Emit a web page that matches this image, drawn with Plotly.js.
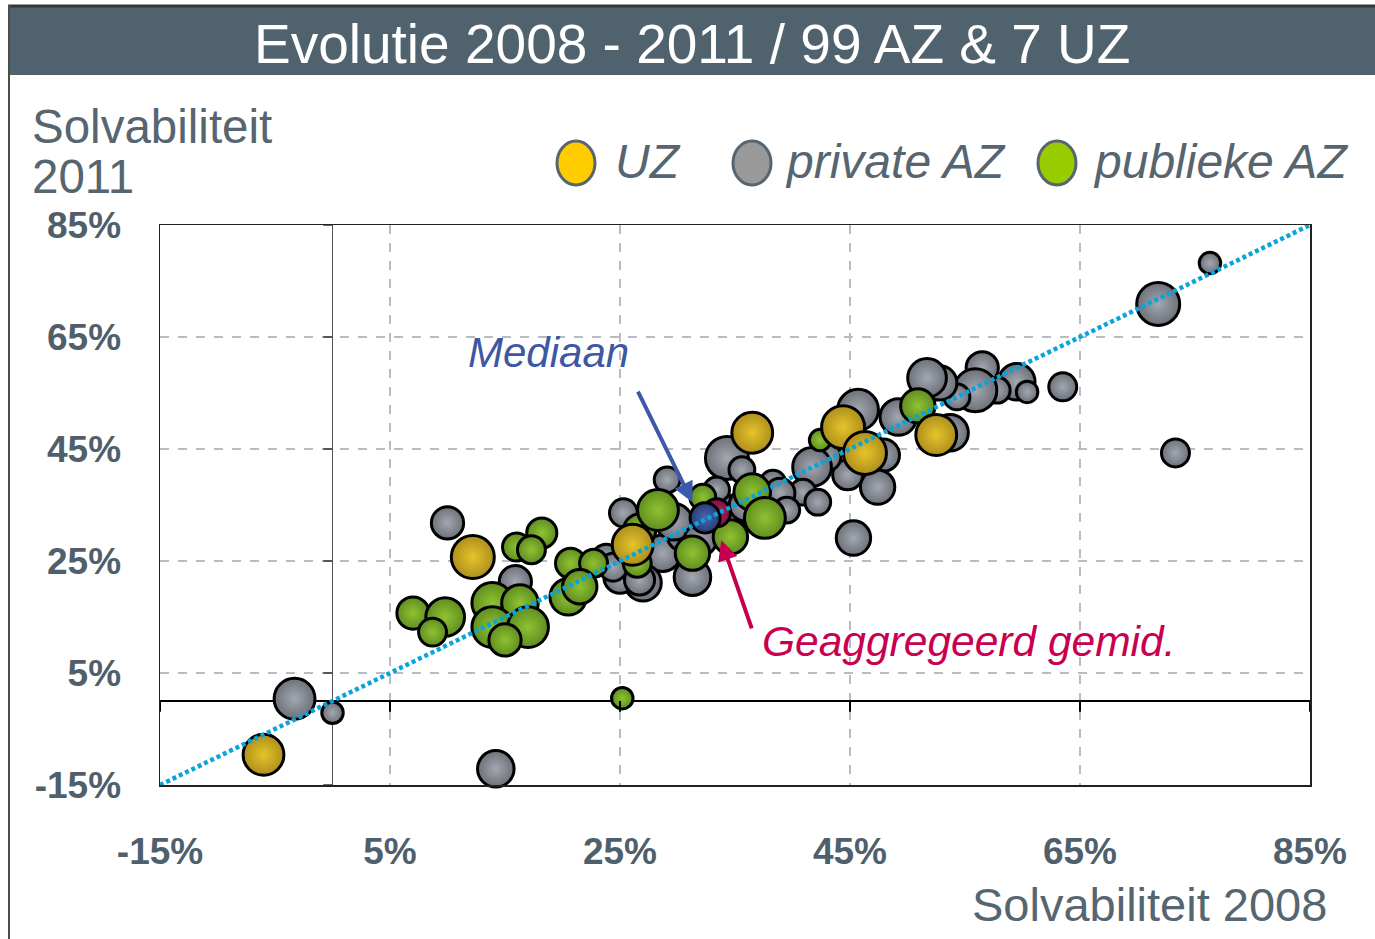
<!DOCTYPE html>
<html>
<head>
<meta charset="utf-8">
<script src="https://cdn.plot.ly/plotly-3.0.1.min.js"></script>
<style>html,body{margin:0;padding:0;background:#fff;}#chart{width:1375px;height:939px;}</style>
</head>
<body>
<div id="chart"></div>
<script>
// ---------- DATA ----------
const xTickVals = [-15, 5, 25, 45, 65, 85];
const xTickText = ['-15%', '5%', '25%', '45%', '65%', '85%'];
const yTickVals = [-15, 5, 25, 45, 65, 85];
const yTickText = ['-15%', '5%', '25%', '45%', '65%', '85%'];

// UZ (yellow)
const uzX = [-6.0, 12.2, 26.1, 36.5, 44.4, 46.3, 52.5];
const uzY = [-9.6, 25.7, 27.9, 47.9, 48.9, 44.3, 47.5];
const uzSize = [38, 40, 38, 38, 40, 40, 38];

// private AZ (gray)
const privX = [-3.3, 0.0, 14.2, 10.0, 15.9, 71.8, 76.3, 73.3, 45.3, 63.5,
               59.5, 60.4, 57.8, 56.5, 55.9, 54.3, 52.8, 51.7, 49.2, 45.7,
               53.7, 47.9, 47.4, 44.8, 43.0, 41.7, 40.9, 42.2, 34.3, 35.6,
               38.3, 38.9, 39.5, 33.4, 29.1, 25.3, 28.7, 31.3, 27.0, 25.0,
               23.8, 26.7, 24.4, 30.5, 35.0, 29.7, 35.9, 32.0];
const privY = [0.4, -2.1, -12.1, 31.8, 21.3, 70.9, 78.2, 44.3, 29.1, 56.1,
               57.0, 55.2, 55.5, 59.5, 55.5, 54.3, 56.8, 57.7, 50.7, 52.0,
               47.9, 43.9, 38.2, 40.4, 43.6, 41.8, 37.3, 35.5, 43.4, 41.3,
               38.9, 37.1, 34.1, 37.7, 39.5, 33.6, 26.4, 22.1, 21.1, 22.1,
               25.5, 21.6, 23.9, 29.6, 34.1, 32.0, 35.0, 28.8];
const privSize = [38, 20, 34, 30, 30, 40, 20, 26, 32, 26,
                  34, 20, 24, 30, 40, 24, 32, 36, 34, 38,
                  34, 30, 32, 28, 26, 36, 24, 24, 40, 24,
                  24, 28, 24, 24, 24, 26, 34, 34, 34, 30,
                  26, 28, 26, 30, 28, 34, 30, 30];

// publieke AZ (green)
const pubX = [25.2, 7.0, 9.8, 8.7, 13.9, 16.3, 13.9, 17.0, 15.0, 16.0,
              18.2, 17.3, 20.7, 22.7, 20.5, 21.5, 26.5, 26.7, 28.3, 31.3,
              32.2, 34.6, 36.5, 37.6, 42.4, 50.9];
const pubY = [0.5, 15.7, 15.0, 12.3, 17.5, 17.5, 13.2, 13.2, 10.9, 27.5,
              30.0, 27.0, 24.6, 24.6, 18.6, 20.4, 24.6, 30.5, 34.1, 26.4,
              36.4, 29.3, 37.3, 32.7, 46.6, 52.7];
const pubSize = [20, 30, 36, 26, 38, 34, 38, 38, 30, 26,
                 28, 26, 28, 26, 34, 32, 26, 30, 38, 32,
                 24, 32, 34, 38, 20, 32];

// Median and aggregated average
const medX = [32.4], medY = [32.7], medSize = [28];
const avgX = [33.4], avgY = [33.6], avgSize = [26];

const diagX = [-15, 85], diagY = [-15, 85];

// ---------- HELPERS ----------
const FONT = 'Liberation Sans, Arial, sans-serif';
const TXT = '#56656f';
const PX = p => (p - 160) / 1150;   // pixel -> paper x
const PY = p => (785 - p) / 560;    // pixel -> paper y

// edge = marker colour, center = radial gradient (centre) colour
function bubble(name, x, y, s, center, edge) {
  return {
    type: 'scatter', mode: 'markers', name: name, x: x, y: y,
    hoverinfo: 'x+y+name',
    marker: {
      size: s, sizemode: 'diameter', sizeref: 0.93, color: edge,
      gradient: {type: 'radial', color: center},
      line: {color: '#000', width: 3}, opacity: 1
    },
    showlegend: false, cliponaxis: false
  };
}

const traces = [
  bubble('private AZ', privX, privY, privSize, '#a2a7b0', '#6b7079'),
  bubble('publieke AZ', pubX, pubY, pubSize, '#8fc232', '#5f8d20'),
  bubble('UZ', uzX, uzY, uzSize, '#e6c42a', '#ad8e1c'),
  bubble('Geaggregeerd gemid.', avgX, avgY, avgSize, '#c42466', '#7c0f3a'),
  bubble('Mediaan', medX, medY, medSize, '#4a66ad', '#263c74'),
  {type: 'scatter', mode: 'lines', x: diagX, y: diagY, hoverinfo: 'skip',
   line: {color: '#0aa3dc', width: 4.5, dash: '4px,3px'}, showlegend: false}
];

// ---------- SHAPES ----------
const shapes = [];
// title bar
shapes.push({type: 'rect', xref: 'paper', yref: 'paper', x0: PX(8), x1: PX(1380), y0: PY(75), y1: PY(7),
  fillcolor: '#50626e', line: {width: 0}, layer: 'below'});
shapes.push({type: 'line', xref: 'paper', yref: 'paper', x0: PX(8), x1: PX(1380), y0: PY(6), y1: PY(6),
  line: {color: '#303a30', width: 3}});
// left frame line
shapes.push({type: 'line', xref: 'paper', yref: 'paper', x0: PX(9), x1: PX(9), y0: PY(5), y1: PY(939),
  line: {color: '#4a4f4a', width: 2}});
// small ticks on the zero lines
xTickVals.forEach(v => shapes.push({type: 'line', xref: 'x', yref: 'y', x0: v, x1: v, y0: 0, y1: -1.9,
  line: {color: '#000', width: 2}}));
yTickVals.forEach(v => shapes.push({type: 'line', xref: 'x', yref: 'y', x0: -0.8, x1: 0, y0: v, y1: v,
  line: {color: '#333', width: 1.5}}));
// legend circles
const legend = [
  {cx: 576, label: 'UZ', fill: '#ffcc00', tx: 613},
  {cx: 752, label: 'private AZ', fill: '#999999', tx: 783},
  {cx: 1057, label: 'publieke AZ', fill: '#99cc00', tx: 1091}
];
legend.forEach(l => shapes.push({type: 'circle', xref: 'paper', yref: 'paper',
  x0: PX(l.cx - 19), x1: PX(l.cx + 19), y0: PY(185), y1: PY(141),
  fillcolor: l.fill, line: {color: '#56656f', width: 3}}));

// ---------- ANNOTATIONS ----------
const ann = [];
ann.push({xref: 'paper', yref: 'paper', x: PX(692), y: PY(44), xanchor: 'center', yanchor: 'middle',
  text: 'Evolutie 2008 - 2011 / 99 AZ &amp; 7 UZ', showarrow: false,
  font: {family: FONT, size: 55, color: '#ffffff'}});
ann.push({xref: 'paper', yref: 'paper', x: PX(30), y: PY(127), xanchor: 'left', yanchor: 'middle',
  text: 'Solvabiliteit', showarrow: false, font: {family: FONT, size: 47.5, color: TXT}});
ann.push({xref: 'paper', yref: 'paper', x: PX(30), y: PY(176), xanchor: 'left', yanchor: 'middle',
  text: '2011', showarrow: false, font: {family: FONT, size: 47.5, color: TXT}});
ann.push({xref: 'paper', yref: 'paper', x: PX(1329), y: PY(904), xanchor: 'right', yanchor: 'middle',
  text: 'Solvabiliteit 2008', showarrow: false, font: {family: FONT, size: 47, color: TXT}});
legend.forEach(l => ann.push({xref: 'paper', yref: 'paper', x: PX(l.tx), y: PY(162), xanchor: 'left', yanchor: 'middle',
  text: '<i>' + l.label + '</i>', showarrow: false, font: {family: FONT, size: 48, color: TXT}}));
// arrows
ann.push({xref: 'x', yref: 'y', axref: 'x', ayref: 'y', x: 31.3, y: 35.5, ax: 26.5, ay: 55.5,
  text: '', showarrow: true, arrowhead: 2, arrowsize: 1, arrowwidth: 4, arrowcolor: '#3d5aa8', standoff: 0});
ann.push({xref: 'x', yref: 'y', axref: 'x', ayref: 'y', x: 33.8, y: 28.7, ax: 36.5, ay: 12.7,
  text: '', showarrow: true, arrowhead: 2, arrowsize: 1, arrowwidth: 4, arrowcolor: '#c4004e', standoff: 0});
ann.push({xref: 'x', yref: 'y', x: 18.8, y: 62.3, xanchor: 'center', yanchor: 'middle',
  text: '<i>Mediaan</i>', showarrow: false, font: {family: FONT, size: 42, color: '#3d57a3'}});
ann.push({xref: 'x', yref: 'y', x: 55.3, y: 10.7, xanchor: 'center', yanchor: 'middle',
  text: '<i>Geaggregeerd gemid.</i>', showarrow: false, font: {family: FONT, size: 42.5, color: '#c8004f'}});

const axisCommon = {
  range: [-15, 85], showgrid: true, gridcolor: '#b8bcc4', griddash: 'dash', gridwidth: 1.5,
  zeroline: true, showline: true, mirror: true, linecolor: '#222', linewidth: 1.5,
  ticks: '', tickfont: {family: FONT, size: 37, color: '#4f5f6b', weight: 'bold'},
  fixedrange: true
};

const layout = {
  width: 1375, height: 939,
  margin: {l: 160, r: 65, t: 225, b: 154, pad: 0},
  paper_bgcolor: '#ffffff', plot_bgcolor: '#ffffff',
  showlegend: false,
  xaxis: Object.assign({}, axisCommon, {tickvals: xTickVals, ticktext: xTickText,
    zerolinecolor: '#555', zerolinewidth: 1, ticklabelstandoff: 33}),
  yaxis: Object.assign({}, axisCommon, {tickvals: yTickVals, ticktext: yTickText,
    zerolinecolor: '#000', zerolinewidth: 2.5, ticklabelstandoff: 30}),
  shapes: shapes,
  annotations: ann,
  font: {family: FONT}
};

Plotly.newPlot('chart', traces, layout, {displayModeBar: false, staticPlot: true});
</script>
</body>
</html>
